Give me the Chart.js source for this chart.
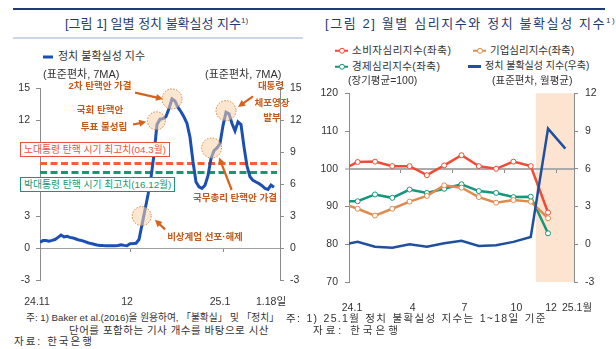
<!DOCTYPE html>
<html>
<head>
<meta charset="utf-8">
<script src="https://cdn.jsdelivr.net/npm/chart.js@4.4.1/dist/chart.umd.min.js"></script>
<style>
  body { margin:0; width:616px; height:349px; position:relative; overflow:hidden; background:#fff;
         font-family:"Liberation Sans","Noto Sans CJK KR",sans-serif; color:#333; }
  canvas { position:absolute; }
  .t { position:absolute; white-space:nowrap; line-height:1; transform:translateY(-50%); }
  .c { position:absolute; white-space:nowrap; line-height:1; transform:translate(-50%,-50%); }
  .title { font-size:13px; color:#1f3b73; }
  .title sup { font-size:8px; vertical-align:5px; line-height:0; }
  .note { font-size:10.5px; color:#333; }
  .call { font-size:9.5px; font-weight:bold; color:#c5591a; }
  .box { position:absolute; font-size:9.8px; line-height:1; background:#fff; padding:1.5px 3px; border:1.5px solid; white-space:nowrap; }
  .rule { position:absolute; height:2px; background:#1f3b73; }
  .leg { display:inline-block; position:relative; width:13px; height:2.5px; vertical-align:middle; margin-right:4px; }
  .leg i { position:absolute; left:3.5px; top:-2px; width:4px; height:4px; border-radius:50%; background:#fff; border:1px solid; }
</style>
</head>
<body>
<div class="rule" style="left:13px;top:8px;width:592px"></div>
<div class="rule" style="left:13px;top:37px;width:290px;height:1.5px;background:#cdd6e5"></div>
<div class="t title" style="left:65px;top:23px">[그림 1] 일별 정치 불확실성 지수<sup>1)</sup></div>
<div class="t title" style="left:325px;top:23px;letter-spacing:1.6px">[그림 2] 월별 심리지수와 정치 불확실성 지수<sup>1)</sup></div>

<canvas id="daily" width="305" height="234" style="left:0;top:76px"></canvas>
<canvas id="monthly" width="311" height="232" style="left:305px;top:80px"></canvas>

<!-- figure 1 legend and units -->
<div class="t note" style="left:43px;top:56px;font-size:11px"><span class="leg" style="width:10px;height:3px;background:#1b50b2;margin-right:5px"></span>정치 불확실성 지수</div>
<div class="t note" style="left:43px;top:74px;font-size:11px">(표준편차, 7MA)</div>
<div class="t note" style="left:205px;top:74px;font-size:11px">(표준편차, 7MA)</div>

<!-- figure 1 callouts -->
<div class="c call" style="left:100px;top:86px">2차 탄핵안 가결</div>
<div class="c call" style="left:100px;top:110px">국회 탄핵안</div>
<div class="c call" style="left:104px;top:127px">투표 불성립</div>
<div class="c call" style="left:271px;top:86px">대통령</div>
<div class="c call" style="left:272px;top:103px">체포영장</div>
<div class="c call" style="left:272px;top:118px">발부</div>
<div class="c call" style="left:235px;top:198px">국무총리 탄핵안 가결</div>
<div class="c call" style="left:205px;top:237px">비상계엄 선포·해제</div>
<div class="box" style="left:20px;top:142px;color:#f0503a;border-color:#f0503a">노대통령 탄핵 시기 최고치(04.3월)</div>
<div class="box" style="left:20px;top:177px;color:#139a74;border-color:#139a74">박대통령 탄핵 시기 최고치(16.12월)</div>

<!-- figure 2 legend and units -->
<div class="t note" style="left:335px;top:50px;letter-spacing:0.5px"><span class="leg" style="background:#f24a35"><i style="border-color:#f24a35"></i></span>소비자심리지수(좌축)</div>
<div class="t note" style="left:473px;top:50px"><span class="leg" style="background:#e08a4c"><i style="border-color:#e08a4c"></i></span>기업심리지수(좌축)</div>
<div class="t note" style="left:335px;top:66px;letter-spacing:0.4px"><span class="leg" style="background:#13977a"><i style="border-color:#13977a"></i></span>경제심리지수(좌축)</div>
<div class="t note" style="left:468px;top:66px;font-size:10px"><span class="leg" style="background:#1f4f9f;height:3px"></span>정치 불확실성 지수(우축)</div>
<div class="t note" style="left:348px;top:80px">(장기평균=100)</div>
<div class="t note" style="left:492px;top:80px">(표준편차, 월평균)</div>

<!-- footnotes -->
<div class="t note" style="left:26px;top:318px;font-size:9.7px">주: 1) Baker et al.(2016)을 원용하여, 「불확실」 및 「정치」</div>
<div class="t note" style="left:69px;top:330px;letter-spacing:0.5px">단어를 포함하는 기사 개수를 바탕으로 시산</div>
<div class="t note" style="left:14px;top:341px;letter-spacing:2px">자료: 한국은행</div>
<div class="t note" style="left:286px;top:318px;letter-spacing:1.3px;word-spacing:1px">주: 1) 25.1월 정치 불확실성 지수는 1~18일 기준</div>
<div class="t note" style="left:313px;top:330px;letter-spacing:3px">자료: 한국은행</div>

<script>
// ---- figure 1 : daily political uncertainty (7-day MA), 24.11.1 ~ 25.1.18
var dailyIndex = [
  0.55, 0.7, 0.7, 0.65, 0.72, 0.8, 1.0, 1.22, 1.05, 1.1,
  1.0, 0.95, 0.85, 0.75, 0.7, 0.6, 0.5, 0.42, 0.35, 0.28,
  0.25, 0.23, 0.22, 0.22, 0.22, 0.22, 0.24, 0.3, 0.25, 0.22,
  0.4, 0.42, 0.45, 0.8, 2.2, 3.6, 5.0, 6.6, 8.8, 11.6,
  12.1, 12.15, 12.35, 13.1, 14.0, 13.8, 13.2, 12.8, 12.3, 11.7,
  10.4, 8.1, 6.2, 5.75, 5.6, 5.9, 6.8, 8.4, 9.15, 9.4,
  9.8, 11.5, 12.75, 12.6, 11.7, 11.0, 11.85, 11.6, 9.5, 7.7,
  6.7, 6.35, 6.2, 6.05, 5.85, 5.6, 5.5, 5.9, 5.7
];
var rohPeak = 7.95;    // 노대통령 탄핵 시기 최고치
var parkPeak = 7.1;    // 박대통령 탄핵 시기 최고치
var dailyTickAt = [0, 30, 61, 78];
var dailyTickText = ['24.11', '12', '25.1', '1.18일'];
var monthStartDays = [30, 61];

// callouts, in (day, index) coordinates
var circles = [
  {x: 44, y: 14.0, r: 10}, {x: 38.8, y: 11.95, r: 9}, {x: 62, y: 12.9, r: 10},
  {x: 57.2, y: 9.4, r: 10}, {x: 33.9, y: 3.0, r: 9.5}
];
var arrows = [
  {x1: 31.7, y1: 14.6, x2: 41, y2: 14.0},
  {x1: 31, y1: 11.6, x2: 35.4, y2: 11.85},
  {x1: 71, y1: 14.25, x2: 66, y2: 13.25},
  {x1: 63.9, y1: 5.45, x2: 59.7, y2: 8.5},
  {x1: 41.7, y1: 1.75, x2: 38.3, y2: 2.65}
];

// ---- figure 2 : monthly sentiment and political uncertainty, 23.12 ~ 25.1
var months = ['23.12','24.1','24.2','24.3','24.4','24.5','24.6','24.7','24.8','24.9','24.10','24.11','24.12','25.1'];
var ccsi = [99.5, 101.8, 101.9, 100.7, 100.7, 98.3, 100.9, 103.6, 100.7, 100.0, 101.9, 100.7, 88.4, null];
var cbsi = [91.0, 89.4, 87.6, 89.4, 91.3, 92.8, 95.6, 95.0, 92.5, 91.0, 91.7, 91.3, 86.9, null];
var esi  = [91.4, 91.4, 93.2, 92.3, 94.5, 93.6, 94.7, 95.9, 94.1, 93.6, 92.5, 92.6, 82.9, null];
var epu  = [-0.06, 0.19, -0.19, -0.27, 0.0, -0.19, 0.08, 0.27, -0.13, -0.08, 0.19, 0.58, 9.19, 7.6];
var monthTickAt = [-0.5, 3, 6, 9, 11, 12.5];
var monthTickText = ['24.1', '4', '7', '10', '12', '25.1월'];
var quarterMarks = [2.5, 5.5, 8.5, 11.5];
var shadeFrom = 10.3;

var tickFont = {family: "'Liberation Sans','Noto Sans CJK KR'", size: 10.5};
var axisGrey = '#8c8c8c';

function monthPoints(vals) {
  // first entry is 23.12, which sits left of the plot and is clipped
  return vals.map(function (v, i) { return {x: i - 1, y: v}; });
}

var calloutPlugin = {
  id: 'callouts',
  afterDatasetsDraw: function (chart, args, opts) {
    if (!opts.circles) return;
    var ctx = chart.ctx, x = chart.scales.x, y = chart.scales.y;
    ctx.save();
    opts.circles.forEach(function (c) {
      ctx.beginPath();
      ctx.arc(x.getPixelForValue(c.x), y.getPixelForValue(c.y), c.r, 0, Math.PI * 2);
      ctx.fillStyle = 'rgba(247,210,170,0.55)';
      ctx.fill();
      ctx.setLineDash([1.5, 1.5]);
      ctx.lineWidth = 1;
      ctx.strokeStyle = '#d9803a';
      ctx.stroke();
    });
    ctx.setLineDash([]);
    opts.arrows.forEach(function (a) {
      var x1 = x.getPixelForValue(a.x1), y1 = y.getPixelForValue(a.y1);
      var x2 = x.getPixelForValue(a.x2), y2 = y.getPixelForValue(a.y2);
      var ang = Math.atan2(y2 - y1, x2 - x1);
      ctx.strokeStyle = ctx.fillStyle = '#d5621d';
      ctx.lineWidth = 2.2;
      ctx.beginPath();
      ctx.moveTo(x1, y1);
      ctx.lineTo(x2 - 5 * Math.cos(ang), y2 - 5 * Math.sin(ang));
      ctx.stroke();
      ctx.beginPath();
      ctx.moveTo(x2, y2);
      ctx.lineTo(x2 - 7 * Math.cos(ang) + 3.5 * Math.sin(ang), y2 - 7 * Math.sin(ang) - 3.5 * Math.cos(ang));
      ctx.lineTo(x2 - 7 * Math.cos(ang) - 3.5 * Math.sin(ang), y2 - 7 * Math.sin(ang) + 3.5 * Math.cos(ang));
      ctx.closePath();
      ctx.fill();
    });
    ctx.restore();
  }
};

var shadePlugin = {
  id: 'shade',
  beforeDraw: function (chart, args, opts) {
    if (opts.from === undefined) return;
    var a = chart.chartArea, x = chart.scales.x;
    var left = x.getPixelForValue(opts.from);
    chart.ctx.save();
    chart.ctx.fillStyle = '#fde4d0';
    chart.ctx.fillRect(left, a.top, a.right - left, a.bottom - a.top);
    chart.ctx.restore();
  }
};

// daily chart
new Chart(document.getElementById('daily'), {
  type: 'line',
  data: {
    datasets: [
      { label: '정치 불확실성 지수',
        data: dailyIndex.map(function (v, i) { return {x: i, y: v}; }),
        borderColor: '#1b50b2', borderWidth: 3, pointRadius: 0, tension: 0 },
      { label: '노대통령 탄핵 시기 최고치',
        data: [{x: 0, y: rohPeak}, {x: 79, y: rohPeak}],
        borderColor: '#ff5a3c', borderWidth: 3, borderDash: [7, 3.5], pointRadius: 0 },
      { label: '박대통령 탄핵 시기 최고치',
        data: [{x: 0, y: parkPeak}, {x: 79, y: parkPeak}],
        borderColor: '#149a6e', borderWidth: 3, borderDash: [7, 3.5], pointRadius: 0 }
    ]
  },
  options: {
    responsive: false, animation: false, devicePixelRatio: 1,
    layout: { padding: {top: 10, left: 0, right: 0, bottom: 0} },
    plugins: { legend: {display: false}, tooltip: {enabled: false},
               callouts: { circles: circles, arrows: arrows } },
    scales: {
      x: { type: 'linear', min: 0, max: 80, position: 'bottom',
           afterBuildTicks: function (s) { s.ticks = dailyTickAt.map(function (v) { return {value: v}; }); },
           afterFit: function (s) { s.height = 30; },
           grid: {display: false}, border: {display: false},
           ticks: { font: tickFont, color: '#333', padding: 8, labelOffset: -3, autoSkip: false, maxRotation: 0,
                    callback: function (v) { return dailyTickText[dailyTickAt.indexOf(v)]; } } },
      xZero: { type: 'linear', min: 0, max: 80, position: {y: 0},
           afterBuildTicks: function (s) { s.ticks = monthStartDays.map(function (v) { return {value: v}; }); },
           grid: {drawOnChartArea: false, tickLength: 4, color: axisGrey}, border: {display: false},
           ticks: {display: false} },
      y: { min: -3, max: 15, position: 'left',
           afterFit: function (s) { s.width = 40; },
           ticks: { stepSize: 3, font: tickFont, color: '#333', padding: 6 },
           grid: { color: function (c) { return c.tick && c.tick.value === 0 ? '#a0a0a0' : 'rgba(0,0,0,0)'; },
                   tickColor: axisGrey, tickLength: 4 },
           border: {color: axisGrey} },
      y2: { min: -3, max: 15, position: 'right',
           afterFit: function (s) { s.width = 25; },
           ticks: { stepSize: 3, font: tickFont, color: '#333', padding: 6 },
           grid: { drawOnChartArea: false, tickColor: axisGrey, tickLength: 4 },
           border: {color: axisGrey} }
    }
  },
  plugins: [calloutPlugin]
});

// monthly chart
function sentiment(label, vals, color) {
  return { label: label, data: monthPoints(vals), yAxisID: 'y', clip: 0,
           borderColor: color, borderWidth: 2.5, tension: 0,
           pointRadius: vals.map(function (v, i) { return i === 0 ? 0 : 2.5; }),
           pointBackgroundColor: '#fff', pointBorderColor: color, pointBorderWidth: 1 };
}

new Chart(document.getElementById('monthly'), {
  type: 'line',
  data: {
    labels: months,
    datasets: [
      { label: '정치 불확실성 지수(우축)', data: monthPoints(epu), yAxisID: 'y2', clip: 0,
        borderColor: '#1f4f9f', borderWidth: 2.5, pointRadius: 0, tension: 0 },
      sentiment('기업심리지수(좌축)', cbsi, '#e08a4c'),
      sentiment('경제심리지수(좌축)', esi, '#13977a'),
      sentiment('소비자심리지수(좌축)', ccsi, '#f24a35')
    ]
  },
  options: {
    responsive: false, animation: false, devicePixelRatio: 1,
    layout: { padding: {top: 13, left: 0, right: 0, bottom: 0} },
    plugins: { legend: {display: false}, tooltip: {enabled: false}, shade: { from: shadeFrom } },
    scales: {
      x: { type: 'linear', min: -0.5, max: 12.5, position: 'bottom',
           afterBuildTicks: function (s) { s.ticks = monthTickAt.map(function (v) { return {value: v}; }); },
           afterFit: function (s) { s.height = 30; },
           grid: {display: false}, border: {display: false},
           ticks: { font: tickFont, color: '#333', padding: 12, labelOffset: 3, autoSkip: false, maxRotation: 0,
                    callback: function (v) { return monthTickText[monthTickAt.indexOf(v)]; } } },
      xBase: { type: 'linear', min: -0.5, max: 12.5, position: {y: 100},
           afterBuildTicks: function (s) { s.ticks = quarterMarks.map(function (v) { return {value: v}; }); },
           grid: {drawOnChartArea: false, tickLength: 4, color: axisGrey}, border: {display: false},
           ticks: {display: false} },
      y: { min: 70, max: 120, position: 'left',
           afterFit: function (s) { s.width = 44; },
           ticks: { stepSize: 10, font: tickFont, color: '#333', padding: 7 },
           grid: { color: function (c) { return c.tick && c.tick.value === 100 ? '#ababab' : 'rgba(0,0,0,0)'; },
                   lineWidth: function (c) { return c.tick && c.tick.value === 100 ? 2 : 1; },
                   tickColor: axisGrey, tickWidth: 1, tickLength: 4 },
           border: {color: axisGrey} },
      y2: { min: -3, max: 12, position: 'right',
           afterFit: function (s) { s.width = 42; },
           ticks: { stepSize: 3, font: tickFont, color: '#333', padding: 7 },
           grid: { drawOnChartArea: false, tickColor: axisGrey, tickLength: 4 },
           border: {color: axisGrey} }
    }
  },
  plugins: [shadePlugin]
});
</script>
</body>
</html>
